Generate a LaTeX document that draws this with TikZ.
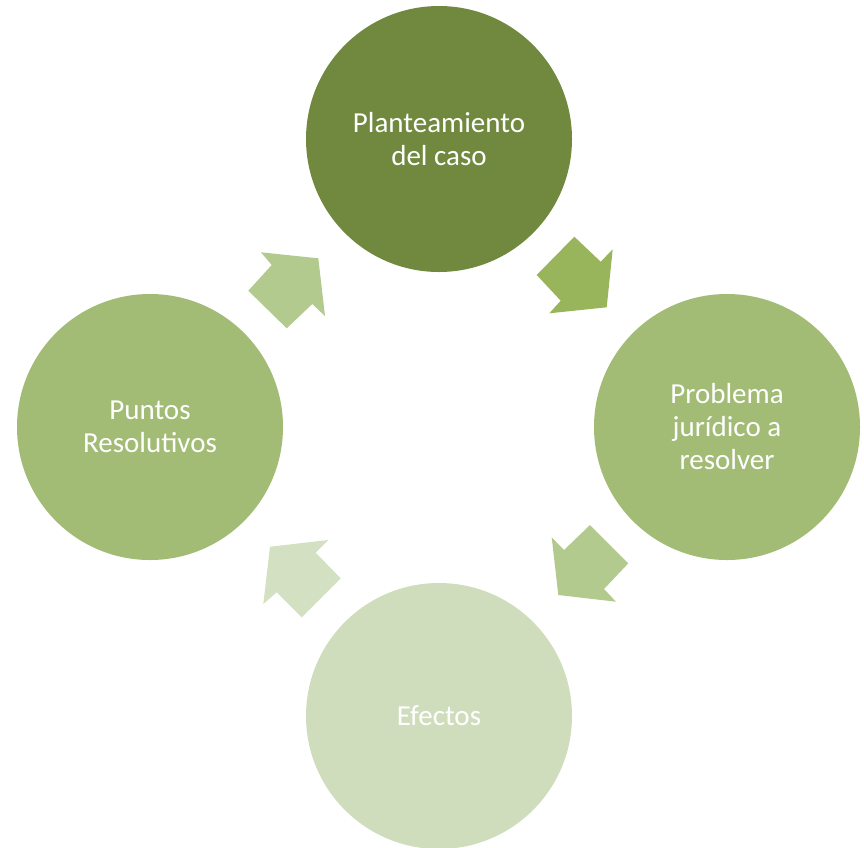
\documentclass[tikz,border=0pt]{standalone}
\usepackage{fontspec}
\setmainfont{Carlito}
\definecolor{cTop}{HTML}{71893F}
\definecolor{cMid}{HTML}{A2BB75}
\definecolor{cBot}{HTML}{D0DDBC}
\definecolor{aOne}{HTML}{98B55B}
\definecolor{aTwo}{HTML}{B3CA8F}
\definecolor{aThree}{HTML}{D4E0C2}
\tikzset{
  stage/.style={circle, minimum size=266pt, inner sep=0pt, text=white, align=center,
    font=\fontsize{29}{33}\selectfont},
  blockarrow/.style={draw=none}
}
\begin{document}
\begin{tikzpicture}[x=1pt,y=-1pt]
\useasboundingbox (0,0) rectangle (864,847);
\node[stage, fill=cTop] (plan) at (439,139) {Planteamiento\\del caso};
\node[stage, fill=cMid] (prob) at (727,427) {Problema\\jurídico a\\resolver};
\node[stage, fill=cBot] (efec) at (439,716) {Efectos};
\node[stage, fill=cMid] (punt) at (150,427) {Puntos\\Resolutivos};
% arrow plan -> prob
\fill[aOne, blockarrow] (574.3,236.7) -- (600.7,261.7) -- (612.7,249.3) -- (606.7,307.3)
  -- (549.3,313.3) -- (560.7,300.7) -- (536.7,275) -- cycle;
% arrow prob -> efec
\fill[aTwo, blockarrow] (590,525) -- (628.3,563.3) -- (604,589) -- (616,601.7)
  -- (558.3,595) -- (551.7,537.3) -- (564,550) -- cycle;
% arrow efec -> punt
\fill[aThree, blockarrow] (340.7,578.3) -- (301.7,617.3) -- (276.7,592.3) -- (263.3,604)
  -- (270,546.7) -- (328.3,540) -- (315.7,552.7) -- cycle;
% arrow punt -> plan
\fill[aTwo, blockarrow] (286.7,328.3) -- (248.3,290.7) -- (271.7,265) -- (261,252.3)
  -- (318.3,258.3) -- (325,316) -- (312.3,304) -- cycle;
\end{tikzpicture}
\end{document}
